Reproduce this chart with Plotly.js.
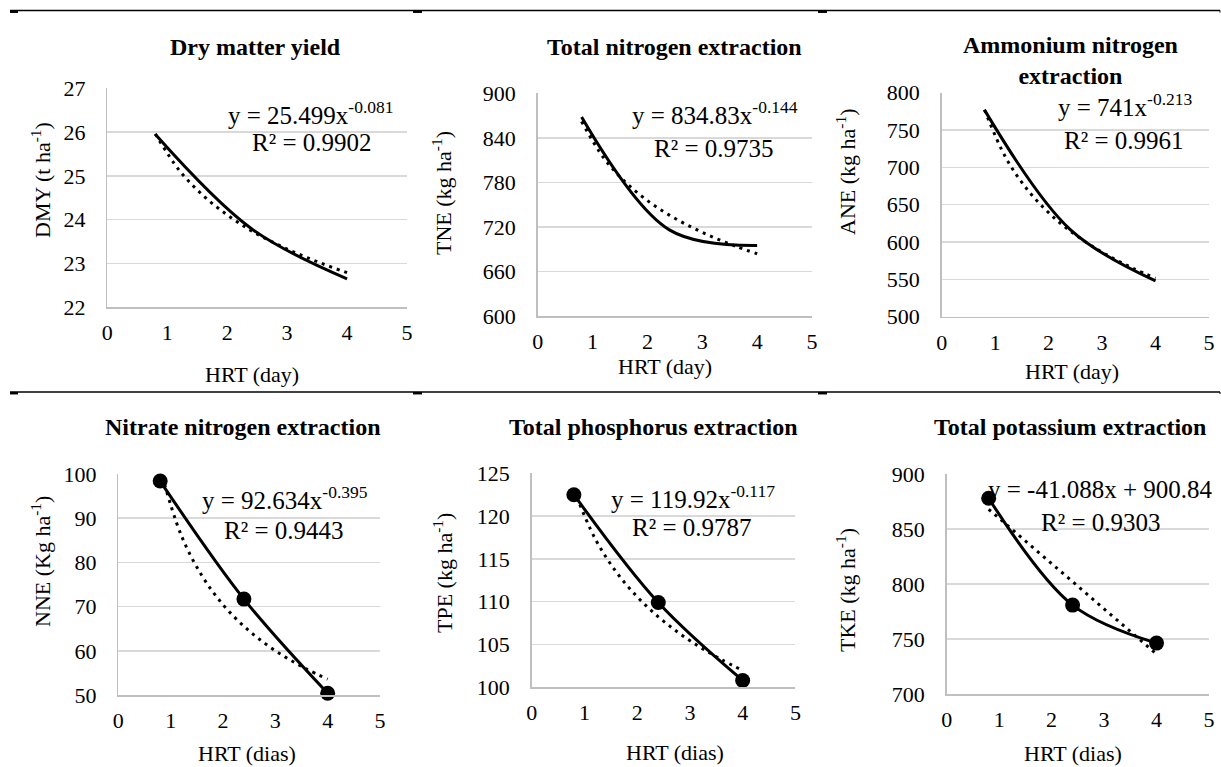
<!DOCTYPE html>
<html><head><meta charset="utf-8">
<script src="https://cdn.plot.ly/plotly-3.0.1.min.js"></script>
<style>html,body{margin:0;padding:0;background:#fff}#chart{width:1221px;height:767px}</style>
</head><body><div id="chart"></div>
<script>
// ---------- data ----------
const hrt = [0.8, 2.4, 4];
const dmy = [25.95, 23.8, 22.65];
const tne = [868, 716, 695];
const ane = [777, 617, 548];
const nne = [98.4, 71.7, 50.4];
const tpe = [122.5, 109.9, 100.8];
const tke = [878, 781, 746.5];

const trendX = [0.8, 1.2, 1.6, 2.0, 2.4, 2.8, 3.2, 3.6, 4.0];
const dmyTrend = [25.96, 25.13, 24.55, 24.11, 23.75, 23.46, 23.21, 22.99, 22.79];
const tneTrend = [862.1, 813.2, 780.2, 755.5, 735.9, 719.8, 706.1, 694.2, 683.8];
const aneTrend = [777.1, 712.8, 670.4, 639.3, 614.9, 595.1, 578.4, 564.1, 551.5];
const nneTrend = [101.17, 86.20, 76.94, 70.45, 65.55, 61.68, 58.51, 55.85, 53.58];
const tpeTrend = [123.09, 117.39, 113.50, 110.58, 108.24, 106.31, 104.66, 103.23, 101.96];
const tkeTrendX = [0.8, 4.0];
const tkeTrend = [867.97, 736.49];

const titles = ["Dry matter yield", "Total nitrogen extraction", "Ammonium nitrogen<br>extraction",
                "Nitrate nitrogen extraction", "Total phosphorus extraction", "Total potassium extraction"];
const yTitles = ["DMY (t ha<sup>-1</sup>)", "TNE (kg ha<sup>-1</sup>)", "ANE (kg ha<sup>-1</sup>)",
                 "NNE (Kg ha<sup>-1</sup>)", "TPE (kg ha<sup>-1</sup>)", "TKE (kg ha<sup>-1</sup>)"];
const xTitles = ["HRT (day)", "HRT (day)", "HRT (day)", "HRT (dias)", "HRT (dias)", "HRT (dias)"];
const equations = ["y = 25.499x<sup>-0.081</sup>", "y = 834.83x<sup>-0.144</sup>", "y = 741x<sup>-0.213</sup>",
                   "y = 92.634x<sup>-0.395</sup>", "y = 119.92x<sup>-0.117</sup>", "y = -41.088x + 900.84"];
const r2 = ["R² = 0.9902", "R² = 0.9735", "R² = 0.9961", "R² = 0.9443", "R² = 0.9787", "R² = 0.9303"];
const yRanges = [[22, 27], [600, 900], [500, 800], [50, 100], [100, 125], [700, 900]];
const yDticks = [1, 60, 50, 10, 5, 50];

// ---------- layout geometry (pixels) ----------
const W = 1221, H = 767;
const px = x => x / W, py = y => 1 - y / H;
const panels = [
  {x0: 107.3, x1: 407,  y0: 88.3,  y1: 307.3, title: [255, 47],  eq: [311, 113], r2: [312, 143], xt: [252, 374], yt: [41, 180]},
  {x0: 537.7, x1: 812,  y0: 93.3,  y1: 316,   title: [674, 47],  eq: [715, 113], r2: [714, 148], xt: [665, 366], yt: [442, 193]},
  {x0: 941.7, x1: 1209, y0: 92.7,  y1: 316.7, title: [1070, 60], eq: [1125, 105], r2: [1124, 140], xt: [1072, 371], yt: [846, 172]},
  {x0: 118.3, x1: 380,  y0: 474,   y1: 695,   title: [242, 427], eq: [285, 498], r2: [284, 530], xt: [247, 753], yt: [41, 562]},
  {x0: 531.7, x1: 795.4,y0: 473.3, y1: 687.3, title: [653, 427], eq: [693, 497], r2: [692, 527], xt: [675, 752], yt: [443, 573]},
  {x0: 946.7, x1: 1209, y0: 474,   y1: 694.3, title: [1070, 427], eq: [1100, 492], r2: [1101, 522], xt: [1073, 753], yt: [846, 590]}
];

const series = [dmy, tne, ane, nne, tpe, tke];
const trends = [[trendX, dmyTrend], [trendX, tneTrend], [trendX, aneTrend], [trendX, nneTrend], [trendX, tpeTrend], [tkeTrendX, tkeTrend]];
const withMarkers = [false, false, false, true, true, true];
// the last panel's equation sits under the first marker, as in the reference
const eqUnderMarks = [false, false, false, false, false, true];

const FONT = 'Liberation Serif';
const traces = [];
const layout = {
  width: W, height: H, margin: {l: 0, r: 0, t: 0, b: 0},
  paper_bgcolor: '#fff', plot_bgcolor: '#fff', showlegend: false,
  font: {family: FONT, color: '#000'},
  annotations: [], shapes: []
};

panels.forEach((p, i) => {
  const n = i === 0 ? '' : String(i + 1);
  const xa = 'x' + n, ya = 'y' + n;
  const ann = (pos, text, size, extra) => Object.assign({
    xref: 'paper', yref: 'paper', x: px(pos[0]), y: py(pos[1]), text: text, showarrow: false,
    xanchor: 'center', yanchor: 'middle', font: {family: FONT, size: size, color: '#000'}
  }, extra || {});

  if (eqUnderMarks[i]) {
    const dx = (p.eq[0] - p.x0) / (p.x1 - p.x0) * 5;
    const dy = yRanges[i][1] - (p.eq[1] - p.y0) / (p.y1 - p.y0) * (yRanges[i][1] - yRanges[i][0]);
    traces.push({
      x: [dx], y: [dy], xaxis: xa, yaxis: ya, mode: 'text', text: [equations[i]],
      textposition: 'middle center', textfont: {family: FONT, size: 25, color: '#000'},
      cliponaxis: false, hoverinfo: 'skip'
    });
  } else {
    layout.annotations.push(ann(p.eq, equations[i], 25));
  }
  traces.push({
    x: trends[i][0], y: trends[i][1], xaxis: xa, yaxis: ya,
    mode: 'lines', line: {color: '#000', width: 3, dash: '3px,5px', shape: trends[i][0].length > 2 ? 'spline' : 'linear'},
    hoverinfo: 'skip'
  });
  traces.push({
    x: hrt, y: series[i], xaxis: xa, yaxis: ya,
    mode: withMarkers[i] ? 'lines+markers' : 'lines',
    line: {color: '#000', width: 3, shape: 'spline', smoothing: 1},
    marker: {color: '#000', size: 15}, cliponaxis: false
  });
  layout['xaxis' + n] = {
    domain: [px(p.x0), px(p.x1)], anchor: ya, range: [0, 5], tick0: 0, dtick: 1,
    showgrid: false, zeroline: false, showline: true, linecolor: '#bfbfbf', linewidth: 1.5,
    ticks: '', ticklabelstandoff: 5, tickfont: {family: FONT, size: 22, color: '#000'}, fixedrange: true
  };
  layout['yaxis' + n] = {
    domain: [py(p.y1), py(p.y0)], anchor: xa, range: yRanges[i], tick0: yRanges[i][0], dtick: yDticks[i],
    showgrid: true, gridcolor: '#d9d9d9', gridwidth: 1.5, zeroline: false, showline: true,
    linecolor: '#bfbfbf', linewidth: 1.5, ticks: '', ticklabelstandoff: 16,
    tickfont: {family: FONT, size: 22, color: '#000'}, fixedrange: true
  };
  layout.annotations.push(ann(p.title, '<b>' + titles[i] + '</b>', 24));
  layout.annotations.push(ann(p.r2, r2[i], 25));
  layout.annotations.push(ann(p.xt, xTitles[i], 22));
  layout.annotations.push(ann(p.yt, yTitles[i], 22, {textangle: -90}));
});

// table rules at the top of each row
[10.5, 392].forEach(y => {
  layout.shapes.push({type: 'line', xref: 'paper', yref: 'paper', x0: px(10), x1: px(1220), y0: py(y), y1: py(y), line: {color: '#000', width: 1.5}});
  layout.shapes.push({type: 'line', xref: 'paper', yref: 'paper', x0: px(1220), x1: px(1220), y0: py(y), y1: py(y + 2), line: {color: '#000', width: 1}});
  [[10, 18], [413, 422], [818, 827]].forEach(d => {
    layout.shapes.push({type: 'line', xref: 'paper', yref: 'paper', x0: px(d[0]), x1: px(d[1]), y0: py(y + 1.2), y1: py(y + 1.2), line: {color: '#000', width: 2.5}});
  });
});

Plotly.newPlot('chart', traces, layout, {staticPlot: true, displayModeBar: false});
</script>
</body></html>
